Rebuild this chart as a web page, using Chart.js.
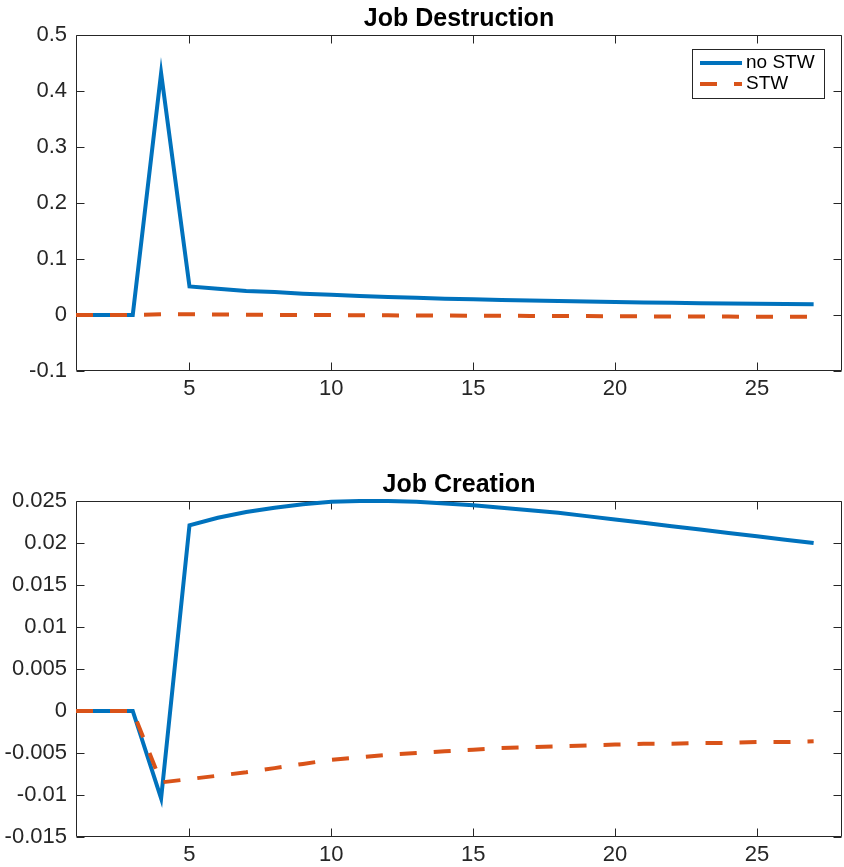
<!DOCTYPE html>
<html>
<head>
<meta charset="utf-8">
<script src="https://cdn.jsdelivr.net/npm/chart.js@4/dist/chart.umd.min.js"></script>
<style>
  html, body { margin: 0; padding: 0; background: #ffffff; }
  #wrap { position: relative; width: 844px; height: 867px; }
  canvas { position: absolute; left: 0; }
  #c1 { top: 0; }
  #c2 { top: 420px; }
</style>
</head>
<body>
<div id="wrap">
  <canvas id="c1" width="844" height="420"></canvas>
  <canvas id="c2" width="844" height="447"></canvas>
</div>
<script>
// ---------- data ----------
const periods = [1,2,3,4,5,6,7,8,9,10,11,12,13,14,15,16,17,18,19,20,21,22,23,24,25,26,27];
const seriesNames = ['no STW', 'STW'];

const jdNoSTW = [0,0,0,0.432,0.051,0.047,0.043,0.041,0.038,0.036,0.034,0.032,0.031,0.029,0.028,0.027,0.026,0.025,0.024,0.023,0.0225,0.022,0.021,0.0205,0.020,0.0195,0.019];
const jdSTW   = [0,0,0,0.0012,0.0012,0.0008,0.0005,0.0002,0,-0.0002,-0.0004,-0.0006,-0.0008,-0.001,-0.0012,-0.0014,-0.0016,-0.0018,-0.002,-0.0022,-0.0024,-0.0026,-0.0027,-0.0029,-0.003,-0.0031,-0.0032];

const jcNoSTW = [0,0,0,-0.0104,0.0221,0.0230,0.0237,0.0242,0.0246,0.0249,0.0250,0.0250,0.0249,0.0247,0.0245,0.0242,0.0239,0.0236,0.0232,0.0228,0.0224,0.0220,0.0216,0.0212,0.0208,0.0204,0.0200];
const jcSTW   = [0,0,0,-0.0085,-0.0081,-0.0077,-0.0073,-0.0068,-0.0063,-0.0058,-0.0055,-0.0052,-0.0050,-0.0048,-0.0046,-0.0044,-0.0043,-0.0042,-0.0041,-0.0040,-0.0039,-0.0039,-0.0038,-0.0038,-0.0037,-0.0037,-0.0036];

const xTickValues = [5,10,15,20,25];
const xTickLabels = ['5','10','15','20','25'];
const jdTickValues = [-0.1,0,0.1,0.2,0.3,0.4,0.5];
const jdTickLabels = ['-0.1','0','0.1','0.2','0.3','0.4','0.5'];
const jcTickValues = [-0.015,-0.01,-0.005,0,0.005,0.01,0.015,0.02,0.025];
const jcTickLabels = ['-0.015','-0.01','-0.005','0','0.005','0.01','0.015','0.02','0.025'];

const titles = ['Job Destruction', 'Job Creation'];

// ---------- styling ----------
const FONT = "'Liberation Sans', Arial, Helvetica, sans-serif";
const BLUE = '#0072BD';
const ORANGE = '#D95319';
const AXIS = '#262626';

function pts(ys) { return periods.map((p, i) => ({ x: p, y: ys[i] })); }

const boxPlugin = {
  id: 'matlabBox',
  beforeDatasetsDraw(chart) {
    const { ctx, chartArea: a } = chart;
    const xs = chart.scales.x, ys = chart.scales.y;
    const L = Math.round(a.left) + 0.5, R = Math.round(a.right) - 0.5;
    const T = Math.round(a.top) + 0.5, B = Math.round(a.bottom) - 0.5;
    ctx.save();
    ctx.strokeStyle = AXIS;
    ctx.lineWidth = 1;
    ctx.beginPath();
    ctx.rect(L, T, R - L, B - T);
    xs.ticks.forEach(t => {
      const px = Math.round(xs.getPixelForValue(t.value)) + 0.5;
      ctx.moveTo(px, B); ctx.lineTo(px, B - 8);
      ctx.moveTo(px, T); ctx.lineTo(px, T + 8);
    });
    ys.ticks.forEach(t => {
      const py = Math.round(ys.getPixelForValue(t.value)) + 0.5;
      ctx.moveTo(L, py); ctx.lineTo(L + 8, py);
      ctx.moveTo(R, py); ctx.lineTo(R - 8, py);
    });
    ctx.stroke();
    ctx.restore();
  }
};

const titlePlugin = {
  id: 'axesTitle',
  afterDraw(chart, args, opts) {
    const { ctx, chartArea: a } = chart;
    ctx.save();
    ctx.fillStyle = '#000000';
    ctx.font = 'bold 25px ' + FONT;
    ctx.textAlign = 'center';
    ctx.textBaseline = 'alphabetic';
    ctx.fillText(opts.text, (a.left + a.right) / 2, a.top - 9);
    ctx.restore();
  }
};

const legendPlugin = {
  id: 'boxLegend',
  afterDraw(chart, args, opts) {
    if (!opts.show) return;
    const { ctx } = chart;
    const x0 = 692.5, y0 = 49.5, w = 132, h = 49;
    ctx.save();
    ctx.fillStyle = '#ffffff';
    ctx.fillRect(x0, y0, w, h);
    ctx.strokeStyle = AXIS;
    ctx.lineWidth = 1;
    ctx.strokeRect(x0, y0, w, h);
    const rows = [63, 84];
    chart.data.datasets.slice().sort((a, b) => a.legendIndex - b.legendIndex).forEach((ds, i) => {
      const yy = rows[i];
      ctx.beginPath();
      ctx.strokeStyle = ds.borderColor;
      ctx.lineWidth = 4;
      ctx.setLineDash(ds.borderDash || []);
      ctx.moveTo(700, yy); ctx.lineTo(742, yy);
      ctx.stroke();
      ctx.setLineDash([]);
      ctx.fillStyle = '#000000';
      ctx.font = '19px ' + FONT;
      ctx.textBaseline = 'middle';
      ctx.textAlign = 'left';
      ctx.fillText(ds.label, 746, yy);
    });
    ctx.restore();
  }
};

function makeChart(canvasId, title, noSTW, stw, yMin, yMax, yTicks, yLabels, padTop, xAxisHeight, withLegend) {
  return new Chart(document.getElementById(canvasId), {
    type: 'line',
    data: {
      datasets: [
        { label: seriesNames[0], data: pts(noSTW), borderColor: BLUE, borderWidth: 4,
          pointRadius: 0, tension: 0, fill: false, order: 1, clip: 6, legendIndex: 0,
          borderJoinStyle: 'miter' },
        { label: seriesNames[1], data: pts(stw), borderColor: ORANGE, borderWidth: 4,
          borderDash: [17, 17], pointRadius: 0, tension: 0, fill: false, order: 0, clip: 6, legendIndex: 1 }
      ]
    },
    options: {
      responsive: false,
      animation: false,
      devicePixelRatio: 1,
      layout: { padding: { left: 0, right: 2, top: padTop, bottom: 0 } },
      plugins: {
        legend: { display: false },
        tooltip: { enabled: false },
        title: { display: false },
        axesTitle: { text: title },
        boxLegend: { show: withLegend }
      },
      scales: {
        x: {
          type: 'linear', min: 1, max: 28,
          grid: { display: false, drawTicks: false },
          border: { display: false },
          afterBuildTicks: s => { s.ticks = xTickValues.map(v => ({ value: v })); },
          afterFit: s => { s.height = xAxisHeight; },
          ticks: {
            color: AXIS, padding: 5, maxRotation: 0, autoSkip: false,
            font: { family: FONT, size: 22, lineHeight: 1.2 },
            callback: (v, i) => xTickLabels[i]
          }
        },
        y: {
          type: 'linear', min: yMin, max: yMax,
          grid: { display: false, drawTicks: false },
          border: { display: false },
          afterBuildTicks: s => { s.ticks = yTicks.map(v => ({ value: v })); },
          afterFit: s => { s.width = 76; },
          ticks: {
            color: AXIS, padding: 9, autoSkip: false,
            font: { family: FONT, size: 22, lineHeight: 1.2 },
            callback: (v, i) => yLabels[i]
          }
        }
      }
    },
    plugins: [boxPlugin, titlePlugin, legendPlugin]
  });
}

makeChart('c1', titles[0], jdNoSTW, jdSTW, -0.1, 0.5, jdTickValues, jdTickLabels, 35, 49, true);
makeChart('c2', titles[1], jcNoSTW, jcSTW, -0.015, 0.025, jcTickValues, jcTickLabels, 81, 30, false);
</script>
</body>
</html>
